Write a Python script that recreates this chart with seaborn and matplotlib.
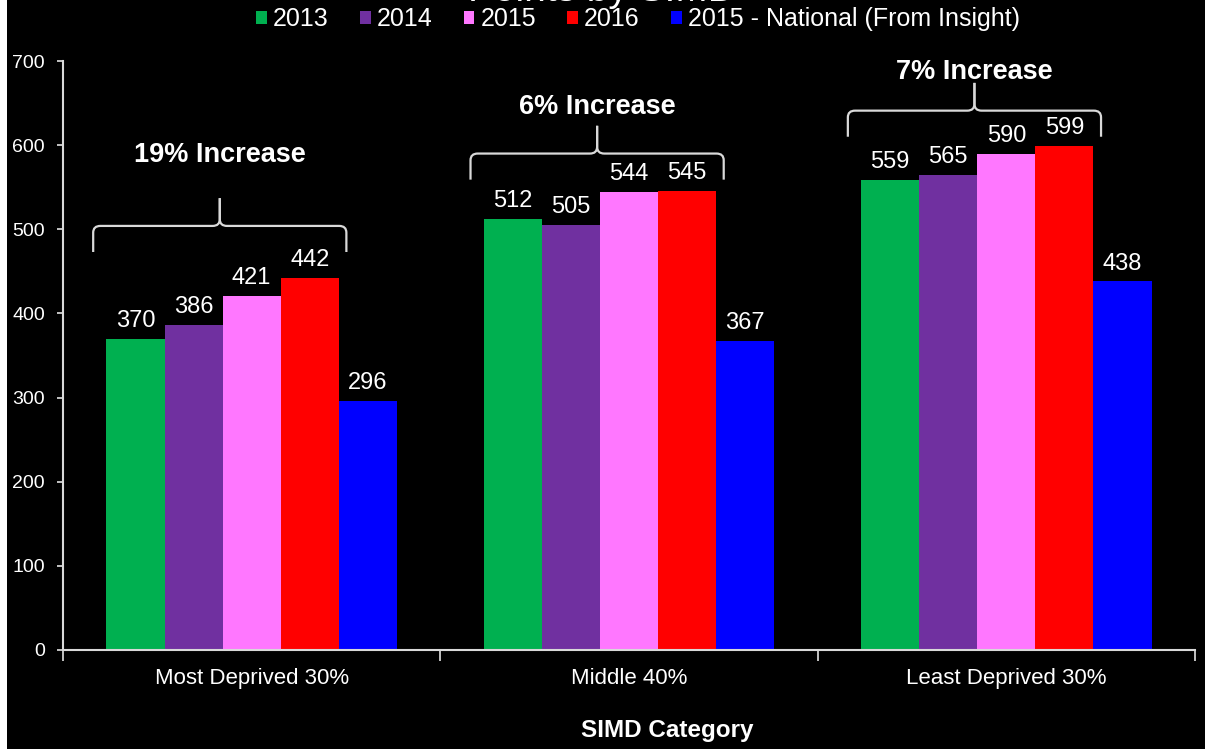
import numpy as np
import pandas as pd
import seaborn as sns
import matplotlib.pyplot as plt
from matplotlib.path import Path
from matplotlib.patches import PathPatch, Rectangle

categories = ["Most Deprived 30%", "Middle 40%", "Least Deprived 30%"]
series_names = ["2013", "2014", "2015", "2016", "2015 - National (From Insight)"]
values_2013 = [370, 512, 559]
values_2014 = [386, 505, 565]
values_2015 = [421, 544, 590]
values_2016 = [442, 545, 599]
values_national = [296, 367, 438]
increase_labels = ["19% Increase", "6% Increase", "7% Increase"]

# annotation layout (data units on the y axis)
brace_base = [473, 559, 610]
label_y = [588, 645, 687]

colors = ["#00B050", "#7030A0", "#FF77FF", "#FF0000", "#0000FF"]
FG = "#d9d9d9"


def draw_brace(ax, xl, xr, yb, yt, yp, rx, ry):
    xc = (xl + xr) / 2
    for xe, s in [(xl, 1), (xr, -1)]:
        verts = [(xe, yb), (xe, yt - ry), (xe, yt), (xe + s * rx, yt),
                 (xc - s * rx, yt), (xc, yt), (xc, yt + ry), (xc, yp)]
        codes = [Path.MOVETO, Path.LINETO, Path.CURVE3, Path.CURVE3,
                 Path.LINETO, Path.CURVE3, Path.CURVE3, Path.LINETO]
        ax.add_patch(PathPatch(Path(verts, codes), fill=False, edgecolor=FG,
                               lw=1.6, clip_on=False))


def main():
    sns.set_theme(style="ticks", rc={
        "figure.facecolor": "black", "axes.facecolor": "black",
        "axes.edgecolor": FG, "xtick.color": FG, "ytick.color": FG,
        "text.color": "white", "axes.labelcolor": "white",
    })
    plt.rcParams["font.family"] = ["Liberation Sans", "DejaVu Sans"]

    all_vals = [values_2013, values_2014, values_2015, values_2016, values_national]
    df = pd.DataFrame({
        "category": categories * len(series_names),
        "series": np.repeat(series_names, len(categories)),
        "value": np.concatenate(all_vals),
    })

    fig = plt.figure(figsize=(12.05, 7.49), dpi=100)
    ax = fig.add_axes([63 / 1205, 1 - 650 / 749, 1132 / 1205, 589 / 749])
    sns.barplot(data=df, x="category", y="value", hue="series", order=categories,
                hue_order=series_names, palette=colors, width=0.77, gap=0,
                saturation=1, linewidth=0, ax=ax)

    for cont in ax.containers:
        ax.bar_label(cont, fmt="%d", color="white", fontsize=17, padding=5)

    ax.set_ylim(0, 700)
    ax.set_yticks(range(0, 701, 100))
    ax.tick_params(axis="y", labelsize=14, length=4, pad=9, labelcolor="white")
    ax.set_xlim(-0.5, 2.5)
    ax.set_xticks([-0.5, 0.5, 1.5, 2.5])
    ax.set_xticklabels([])
    ax.tick_params(axis="x", length=8)
    ax.set_xticks(range(len(categories)), minor=True)
    ax.set_xticklabels(categories, minor=True)
    ax.tick_params(axis="x", which="minor", length=0, pad=13, labelsize=16,
                   labelcolor="white")
    for sp in ["top", "right"]:
        ax.spines[sp].set_visible(False)
    ax.spines["left"].set_linewidth(1.5)
    ax.spines["bottom"].set_linewidth(1.5)
    ax.set_ylabel("")
    ax.set_xlabel("SIMD Category", fontsize=17.5, fontweight="bold")
    ax.xaxis.set_label_coords(0.534, -0.1375)
    ax.xaxis.label.set_va("center")

    # braces over the first four bars of each group
    first, fourth = ax.containers[0], ax.containers[3]
    for i, lab in enumerate(increase_labels):
        xl = first[i].get_x() - 0.035
        xr = fourth[i].get_x() + fourth[i].get_width() + 0.02
        yb = brace_base[i]
        yt = yb + 31
        draw_brace(ax, xl, xr, yb, yt, yt + 33, 0.019, 8)
        ax.text((xl + xr) / 2, label_y[i], lab, ha="center", va="center",
                fontsize=19.5, fontweight="bold", color="white")

    sns.move_legend(ax, "center", bbox_to_anchor=(0.508, 1.071), ncol=5,
                    frameon=False, title=None, fontsize=18, labelcolor="white",
                    handlelength=0.42, handleheight=0.42, handletextpad=0.25,
                    columnspacing=1.25)

    # title sits mostly above the top edge, as in the source screenshot
    fig.text(0.4996, 1 - 1 / 749, "Points by SIMD", ha="center", va="baseline",
             fontsize=28, color="white")
    fig.patches.append(Rectangle((0, 0), 7 / 1205, 1, transform=fig.transFigure,
                                 facecolor="white", edgecolor="none"))

    fig.savefig("out.png", dpi=100, facecolor="black")


if __name__ == "__main__":
    main()
